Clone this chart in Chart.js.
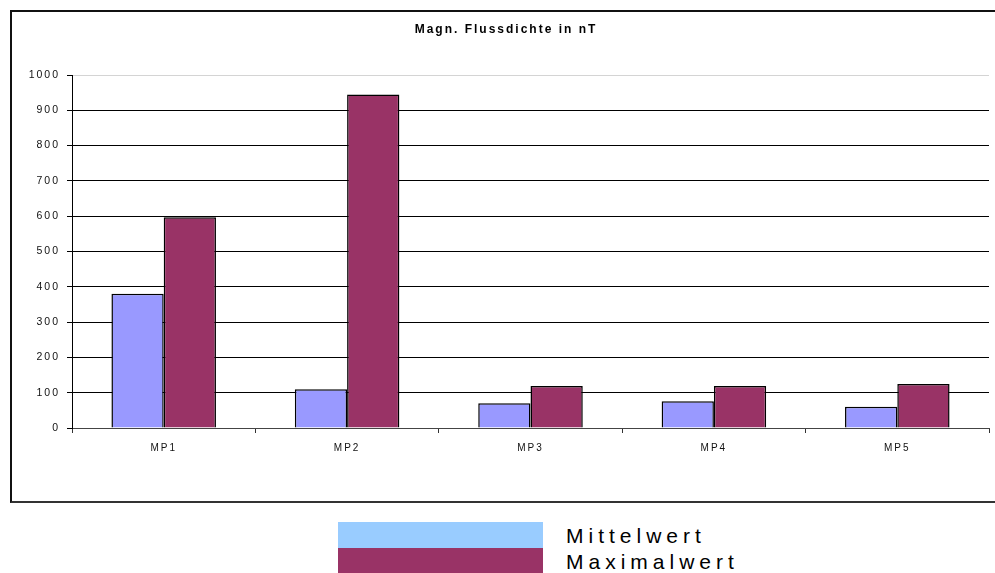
<!DOCTYPE html>
<html>
<head>
<meta charset="utf-8">
<script src="https://cdn.jsdelivr.net/npm/chart.js@4/dist/chart.umd.min.js"></script>
<style>
  body { margin: 0; background: #fff; width: 995px; height: 573px; overflow: hidden; position: relative; font-family: "Liberation Sans", Arial, sans-serif; }
  #frame { position: absolute; left: 10px; top: 10px; width: 1000px; height: 489px; border: 2px solid #111; border-bottom-color: #333; }
  #chart { position: absolute; left: 0; top: 0; }
  .legend-swatch { position: absolute; left: 338px; width: 205px; }
  .legend-text { position: absolute; left: 566px; font-size: 21px; letter-spacing: 5px; color: #000; line-height: 26px; }
</style>
</head>
<body>
<div id="frame"></div>
<canvas id="chart" width="995" height="505"></canvas>
<div class="legend-swatch" style="top:522px;height:26px;background:#99ccff"></div>
<div class="legend-swatch" style="top:548px;height:26px;background:#993366"></div>
<div class="legend-text" style="top:523px">Mittelwert</div>
<div class="legend-text" style="top:549px">Maximalwert</div>
<script>
  const categories = ["MP1", "MP2", "MP3", "MP4", "MP5"];
  const mittelwert = [380, 110, 70, 76, 60];
  const maximalwert = [597, 945, 119, 119, 125];
  const yTicks = [0, 100, 200, 300, 400, 500, 600, 700, 800, 900, 1000];

  // wide letter spacing like the original office chart
  const spacing = {
    id: "spacing",
    beforeUpdate(chart) { chart.ctx.letterSpacing = "2px"; },
    beforeDraw(chart) { chart.ctx.letterSpacing = "2px"; }
  };

  new Chart(document.getElementById("chart"), {
    type: "bar",
    data: {
      labels: categories,
      datasets: [
        {
          label: "Mittelwert",
          data: mittelwert,
          backgroundColor: "#9999ff",
          borderColor: "#000",
          borderWidth: 1.5,
          categoryPercentage: 0.57,
          barPercentage: 1
        },
        {
          label: "Maximalwert",
          data: maximalwert,
          backgroundColor: "#993366",
          borderColor: "#000",
          borderWidth: 1.5,
          categoryPercentage: 0.57,
          barPercentage: 1
        }
      ]
    },
    options: {
      responsive: false,
      animation: false,
      layout: { padding: { left: 23, right: 6, top: 0, bottom: 37 } },
      plugins: {
        legend: { display: false },
        tooltip: { enabled: false },
        title: {
          display: true,
          text: "Magn. Flussdichte in nT",
          color: "#000",
          font: { family: "Liberation Sans", size: 12, weight: "bold", lineHeight: 1.2 },
          padding: { top: 22.5, bottom: 38.1 }
        }
      },
      scales: {
        x: {
          afterFit(s) { s.height = 40; },
          grid: { drawOnChartArea: false, drawTicks: true, tickLength: 5, color: "#333", offset: true },
          border: { color: "#444", width: 1 },
          ticks: { color: "#111", padding: 9, font: { family: "Liberation Sans", size: 10 } }
        },
        y: {
          min: 0,
          max: 1000,
          afterFit(s) { s.width = 49; },
          afterBuildTicks(s) { s.ticks = yTicks.map((v) => ({ value: v })); },
          grid: {
            color: (c) => (c.tick && c.tick.value === 1000 ? "#d4d4d4" : "#000"),
            tickColor: "#000",
            tickLength: 5,
            lineWidth: 1
          },
          border: { color: "#000", width: 1 },
          ticks: {
            color: "#111",
            padding: 7,
            font: { family: "Liberation Sans", size: 10.5 },
            callback: (v) => String(v)
          }
        }
      }
    },
    plugins: [spacing]
  });
</script>
</body>
</html>
